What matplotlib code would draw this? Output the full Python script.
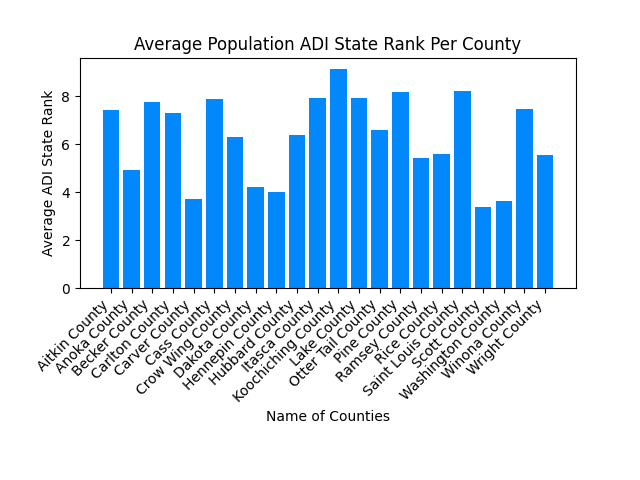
import matplotlib
matplotlib.use("Agg")
import matplotlib.pyplot as plt

counties = ["Aitkin County", "Anoka County", "Becker County", "Carlton County",
            "Carver County", "Cass County", "Crow Wing County", "Dakota County",
            "Hennepin County", "Hubbard County", "Itasca County", "Koochiching County",
            "Lake County", "Otter Tail County", "Pine County", "Ramsey County",
            "Rice County", "Saint Louis County", "Scott County", "Washington County",
            "Winona County", "Wright County"]
avg_rank = [7.42, 4.92, 7.75, 7.29, 3.71, 7.875, 6.29, 4.21,
            4.0, 6.375, 7.92, 9.125, 7.92, 6.58, 8.17, 5.42,
            5.58, 8.21, 3.375, 3.625, 7.46, 5.54]

fig, ax = plt.subplots(figsize=(6.4, 4.8), dpi=100)
fig.subplots_adjust(left=0.125, right=0.9, top=0.879, bottom=0.4)
ax.bar(counties, avg_rank, color="#0388fc")
ax.set_title("Average Population ADI State Rank Per County")
ax.set_xlabel("Name of Counties")
ax.set_ylabel("Average ADI State Rank")
plt.setp(ax.get_xticklabels(), rotation=45, ha="right")
fig.savefig("out.png")
